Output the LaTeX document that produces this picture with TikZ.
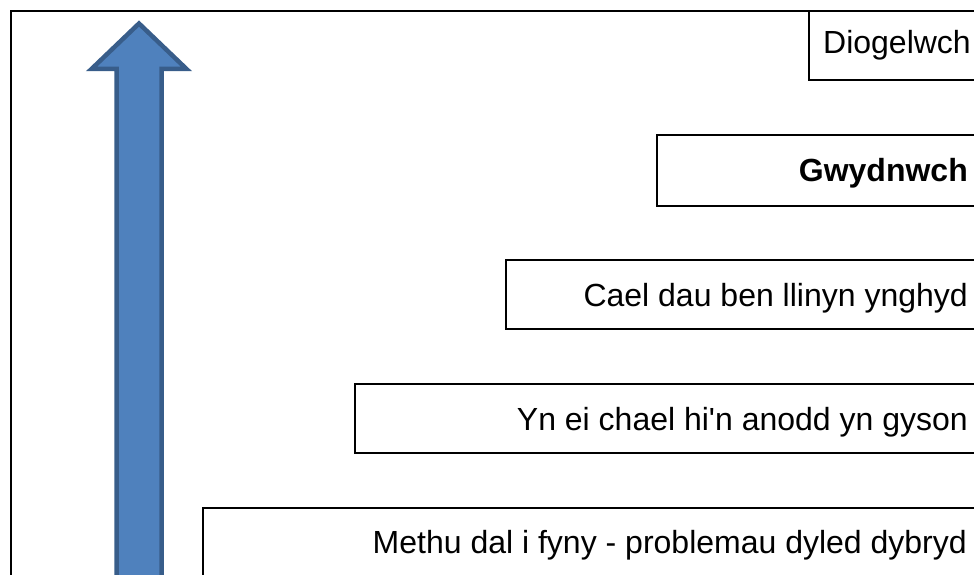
\documentclass[tikz,border=0pt]{standalone}
\usepackage{fontspec}
\newfontfamily\armfont{Liberation Sans}
\definecolor{arrowfill}{HTML}{4F81BD}
\definecolor{arrowline}{HTML}{385D8A}
\begin{document}
\begin{tikzpicture}[x=1pt,y=-1pt,
  frameline/.style={line width=2pt,black},
  stepbox/.style={line width=2pt,black},
  steptext/.style={anchor=base east,inner sep=0pt,font=\armfont\fontsize{32}{38}\selectfont}]
\useasboundingbox (0,0) rectangle (974,575);
\clip (0,0) rectangle (974,575);
% outer frame
\draw[frameline] (11,600) -- (11,11) -- (1000,11);
% arrow
\draw[line width=4.5pt,draw=arrowline,fill=arrowfill,line join=miter]
  (139,23.5) -- (186.5,69) -- (161.5,69) -- (161.5,600) -- (116.5,600) -- (116.5,69) -- (91.5,69) -- cycle;
% boxes
\draw[stepbox] (1000,11) -- (809,11) -- (809,80) -- (1000,80);
\draw[stepbox] (1000,135) -- (657,135) -- (657,206) -- (1000,206);
\draw[stepbox] (1000,260) -- (505.5,260) -- (505.5,329) -- (1000,329);
\draw[stepbox] (1000,384) -- (355,384) -- (355,453) -- (1000,453);
\draw[stepbox] (1000,507.5) -- (203,507.5) -- (203,600);
% texts
\node[steptext] (t1) at (971,54) {Diogelwch};
\node[steptext] (t2) at (968,181.5) {\bfseries Gwydnwch};
\node[steptext] (t3) at (968,306) {Cael dau ben llinyn ynghyd};
\node[steptext] (t4) at (968,430) {Yn ei chael hi'n anodd yn gyson};
\node[steptext] (t5) at (967,553) {Methu dal i fyny - problemau dyled dybryd};
\end{tikzpicture}
\end{document}
